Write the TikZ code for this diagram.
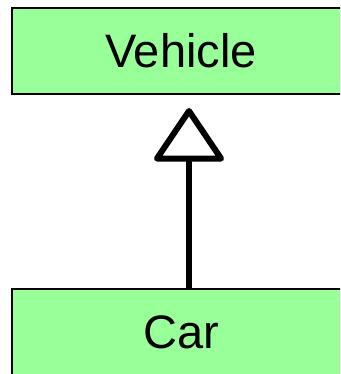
\documentclass[tikz,border=0pt]{standalone}
\usepackage{fontspec}
\setmainfont{Liberation Sans}
\usetikzlibrary{arrows.meta}
\definecolor{boxgreen}{HTML}{99FF99}
\tikzset{
  classbox/.style={draw=black, fill=boxgreen, line width=2pt, minimum width=338pt, inner sep=0pt, font=\fontsize{47pt}{50pt}\selectfont},
  inherit/.style={line width=6pt, -{Triangle[open, length=56pt, width=74pt, round]}, shorten >=14pt}
}
\begin{document}
\begin{tikzpicture}[x=1pt,y=1pt]
\useasboundingbox (0,0) rectangle (340,-374);
\clip (0,0) rectangle (340,-374);
\node[classbox, minimum height=86pt] (vehicle) at (181,-51) {Vehicle};
\node[classbox, minimum height=87pt] (car) at (181,-332.5) {Car};
\coordinate (top) at (189,-94);
\coordinate (bot) at (189,-289);
\draw[inherit] (bot) -- (top);
\end{tikzpicture}
\end{document}
